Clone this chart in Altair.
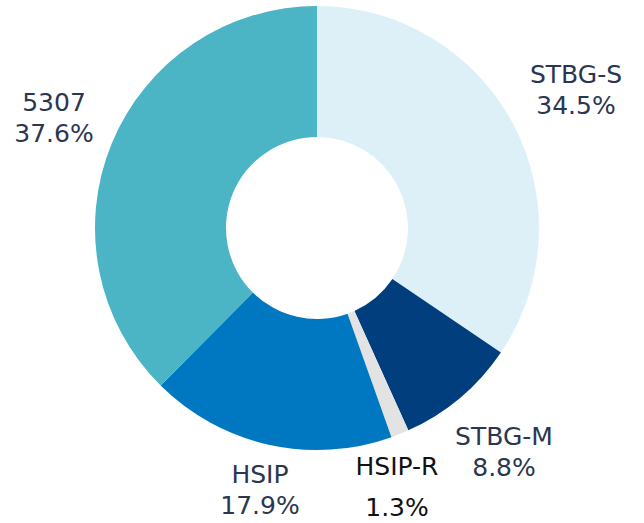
import altair as alt
import pandas as pd

categories = ["STBG-S", "STBG-M", "HSIP-R", "HSIP", "5307"]
shares = [34.5, 8.8, 1.3, 17.9, 37.6]
colors = ["#ddf0f8", "#003e7e", "#e3e3e3", "#0078c1", "#4bb4c5"]

df = pd.DataFrame({
    "category": categories,
    "share": shares,
    "order": list(range(len(categories))),
})

CX, CY = 317, 228
R_OUT, R_IN = 222, 91
FONT = "DejaVu Sans"

arc = alt.Chart(df).mark_arc(outerRadius=R_OUT, innerRadius=R_IN, stroke=None).encode(
    theta=alt.Theta("share:Q", stack=True),
    order=alt.Order("order:Q"),
    color=alt.Color("category:N", scale=alt.Scale(domain=categories, range=colors), legend=None),
    x=alt.value(CX),
    y=alt.value(CY),
)

# label layout (x, y of first line, line spacing, colour)
layout = {
    "STBG-S": (576, 75, 31, "#2b3650"),
    "STBG-M": (504, 437, 31, "#2b3650"),
    "HSIP-R": (397, 467, 41, "#111111"),
    "HSIP": (260, 475, 31, "#2b3650"),
    "5307": (54, 103, 31, "#2b3650"),
}

layers = [arc]
for cat, val in zip(categories, shares):
    x, y, sp, col = layout[cat]
    sub = df[df["category"] == cat].assign(pct=f"{val:.1f}%")
    base = alt.Chart(sub).mark_text(font=FONT, fontSize=25, color=col, align="center", baseline="middle")
    layers.append(base.encode(text="category:N", x=alt.value(x), y=alt.value(y)))
    layers.append(base.encode(text="pct:N", x=alt.value(x), y=alt.value(y + sp)))

chart = alt.layer(*layers).properties(
    width=644, height=523, autosize=alt.AutoSizeParams(type="none"), padding=0
).configure_view(stroke=None)

chart.save("out.html", embed_options={"renderer": "svg", "actions": False})
